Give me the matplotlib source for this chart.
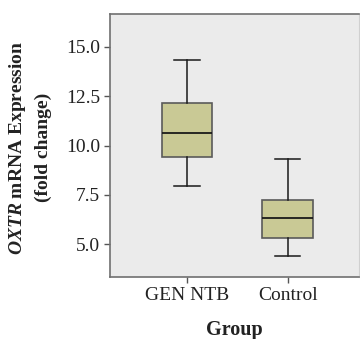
import matplotlib
matplotlib.use("Agg")
import matplotlib.pyplot as plt

groups = ["GEN NTB", "Control"]
whislo = [7.95, 4.42]
q1 = [9.42, 5.32]
med = [10.62, 6.32]
q3 = [12.18, 7.26]
whishi = [14.33, 9.32]
yticks = [5.0, 7.5, 10.0, 12.5, 15.0]

plt.rcParams['font.family'] = ['Liberation Serif']
plt.rcParams['text.color'] = '#222222'
plt.rcParams['mathtext.fontset'] = 'custom'
plt.rcParams['mathtext.rm'] = 'Liberation Serif:bold'
plt.rcParams['mathtext.it'] = 'Liberation Serif:italic:bold'
plt.rcParams['mathtext.bf'] = 'Liberation Serif:bold'

fig = plt.figure(figsize=(3.6, 3.39), dpi=100)
ax = fig.add_axes([110/360, 1-277/339, 249/360, 263/339])
ax.set_facecolor('#EBEBEB')

stats = []
for i, g in enumerate(groups):
    stats.append(dict(label=g, whislo=whislo[i], q1=q1[i], med=med[i], q3=q3[i], whishi=whishi[i], fliers=[]))

ax.bxp(stats, positions=range(len(groups)), widths=0.5, capwidths=0.25, patch_artist=True,
       showfliers=False,
       boxprops=dict(facecolor='#C9C995', edgecolor='#5A5A5A', linewidth=1.2),
       medianprops=dict(color='#1A1A1A', linewidth=1.3),
       whiskerprops=dict(color='#1A1A1A', linewidth=1.1),
       capprops=dict(color='#1A1A1A', linewidth=1.1))

ax.set_xlim(-0.765, 1.71)
ax.set_ylim(3.34, 16.67)
ax.set_yticks(yticks)
ax.set_yticklabels([f"{v:.1f}" for v in yticks])
ax.tick_params(axis='both', labelsize=14, color='#555555', labelcolor='#222222', length=4, width=1)
ax.tick_params(axis='y', pad=3)
ax.tick_params(axis='x', pad=3)

for s in ['top', 'left', 'bottom']:
    ax.spines[s].set_color('#707070')
    ax.spines[s].set_linewidth(1.2)
ax.spines['right'].set_color('#D0D0D0')
ax.spines['right'].set_linewidth(0.8)

ax.set_xlabel('Group', fontsize=14.5, fontweight='bold', labelpad=12, color='#222222')
fig.text(18/360, 1-147.5/339, r'$\it{OXTR}$ mRNA Expression', rotation=90, fontsize=14,
         fontweight='bold', ha='center', va='center')
fig.text(43/360, 1-147.5/339, '(fold change)', rotation=90, fontsize=14,
         fontweight='bold', ha='center', va='center')

fig.savefig('out.png', dpi=100)
